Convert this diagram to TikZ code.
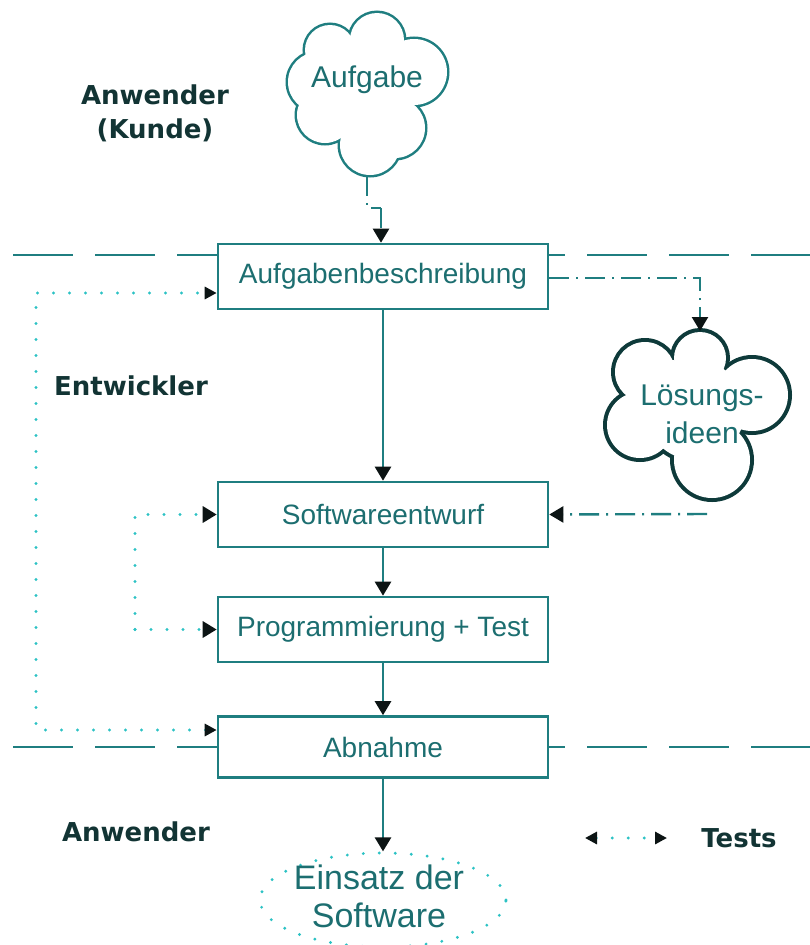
\documentclass[tikz,border=0pt]{standalone}
\usepackage{fontspec}
\setmainfont{Liberation Sans}
\newfontfamily\labfont{DejaVu Sans}
\usetikzlibrary{arrows.meta,shapes.geometric}

\definecolor{linecol}{HTML}{1F7E80}
\definecolor{textcol}{HTML}{1C6E70}
\definecolor{labcol}{HTML}{123434}
\definecolor{dotcol}{HTML}{2CC2C4}
\definecolor{tipcol}{HTML}{0C1414}
\definecolor{cloudcol}{HTML}{0E3A3A}

\begin{document}
\begin{tikzpicture}[x=1pt,y=-1pt,
  stepbox/.style={draw=linecol, line width=2.6pt, fill=white,
    minimum width=330pt, minimum height=65pt, inner sep=0pt,
    text=textcol, font=\fontsize{28}{34}\selectfont},
  bigtip/.style={-{Triangle[length=14pt,width=16pt,color=tipcol]}},
  flow/.style={draw=linecol, line width=2.6pt, bigtip},
  dashdot/.style={draw=linecol, line width=2.4pt,
    dash pattern=on 20pt off 7pt on 2pt off 7pt},
  dotconn/.style={draw=dotcol, line width=3.2pt, line cap=round,
    dash pattern=on 0pt off 16pt},
  smalltips/.style={{Triangle[length=12pt,width=12pt,color=tipcol]}-{Triangle[length=12pt,width=12pt,color=tipcol]}},
  sepline/.style={draw=linecol, line width=2.6pt, dash pattern=on 60pt off 22pt},
  rolelabel/.style={text=labcol, align=center,
    font=\labfont\bfseries\fontsize{26}{34}\selectfont},
  cloudtext/.style={text=textcol, align=center,
    font=\fontsize{30}{38}\selectfont},
]
\useasboundingbox (0,0) rectangle (810,945);

% phase borders
\draw[sepline] (13,255) -- (810,255);
\draw[sepline] (13,747) -- (810,747);

% cloud: Aufgabe (union of circles)
\foreach \cx/\cy/\r in {377/40/27, 414/72/33, 395/128/30, 370/145/30,
                        325/115/28, 318/82/30, 330/50/25, 370/95/45}
  \draw[linecol, line width=5pt] (\cx,\cy) circle[radius=\r];
\foreach \cx/\cy/\r in {377/40/27, 414/72/33, 395/128/30, 370/145/30,
                        325/115/28, 318/82/30, 330/50/25, 370/95/45}
  \fill[white] (\cx,\cy) circle[radius=\r];
\node[cloudtext] (aufg) at (367,80) {Aufgabe};
\coordinate (cb) at (367,176);
\coordinate (cj) at (381,208);

% cloud: Loesungsideen
\foreach \cx/\cy/\r in {645/372/30, 700/358/26, 752/395/36, 712/460/38,
                        640/425/33, 695/410/50, 670/400/40}
  \draw[cloudcol, line width=8pt] (\cx,\cy) circle[radius=\r];
\foreach \cx/\cy/\r in {645/372/30, 700/358/26, 752/395/36, 712/460/38,
                        640/425/33, 695/410/50, 670/400/40}
  \fill[white] (\cx,\cy) circle[radius=\r];
\node[cloudtext] (loes) at (702,414) {Lösungs-\\ideen};
\coordinate (lt) at (700,331);
\coordinate (lr) at (707,514);

% process steps
\node[stepbox] (ab) at (383,276.5) {Aufgabenbeschreibung};
\node[stepbox] (sw) at (383,514.5) {Softwareentwurf};
\node[stepbox] (pt) at (383,629.5) {Programmierung + Test};
\node[stepbox, minimum height=61pt] (an) at (383,747) {Abnahme};

% deployment
\node[ellipse, draw=dotcol, line width=3.2pt, line cap=round,
      dash pattern=on 0pt off 16pt, minimum width=246pt,
      minimum height=94pt, inner sep=0pt] (ein) at (383,900) {};
\node[text=textcol, align=center, font=\fontsize{34}{38}\selectfont]
  (eintext) at (379,896) {Einsatz der\\Software};

% main flow
\draw[flow] (ab) -- (sw);
\draw[flow] (sw) -- (pt);
\draw[flow] (pt) -- (an);
\draw[flow] (an) -- (ein);

% idea flow
\draw[dashdot] (cb) |- (cj);
\draw[dashdot, bigtip] (cj) -- (cj |- ab.north);
\draw[dashdot, bigtip] ([yshift=-1.5pt]ab.east) -| (lt);
\draw[dashdot, bigtip] (lr) -- (sw.east);

% test loops
\coordinate (o1) at (36,730);
\coordinate (o2) at (36,293);
\draw[dotconn, smalltips] ([yshift=17pt]an.west) -- (o1) -- (o2)
  -- ([yshift=-16.5pt]ab.west);
\coordinate (i1) at (135,629.5);
\coordinate (i2) at (135,514.5);
\draw[dotconn, bigtip] (i1) -- (i2) -- (sw.west);
\draw[dotconn, bigtip] (i1) -- (pt.west);

% role labels
\node[rolelabel] (kunde) at (155,113) {Anwender\\(Kunde)};
\node[rolelabel] (entw) at (131,386) {Entwickler};
\node[rolelabel] (anw) at (136,832) {Anwender};

% legend
\coordinate (lg1) at (585,838);
\coordinate (lg2) at (667,838);
\draw[dotconn, smalltips] (lg1) -- (lg2);
\node[rolelabel] (tests) at (739,838) {Tests};
\end{tikzpicture}
\end{document}
